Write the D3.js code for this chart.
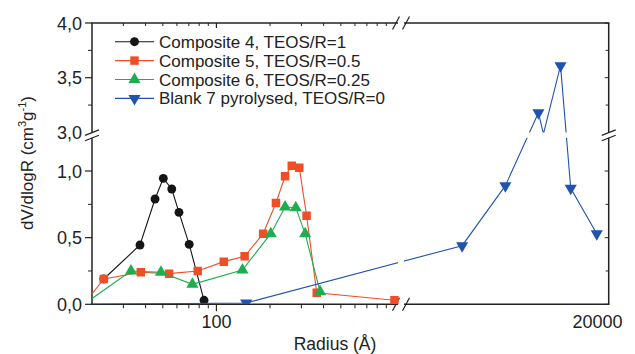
<!DOCTYPE html>
<html>
<head>
<meta charset="utf-8">
<script src="https://cdn.jsdelivr.net/npm/d3@7"></script>
<style>
  body { margin: 0; background: #fff; }
  text { font-family: "Liberation Sans", Arial, sans-serif; fill: #222; }
</style>
</head>
<body>
<div id="chart"></div>
<script>
// data (radius in Angstrom, dV/dlogR)
var comp4R = [23.3, 37.2, 45.2, 50.3, 56.1, 61.6, 70.3, 85.2];
var comp4V = [0.19, 0.445, 0.79, 0.945, 0.865, 0.69, 0.45, 0.03];

var comp5R = [18, 23.3, 37.6, 54.2, 78.5, 110, 144, 183, 216, 243, 265, 292, 321, 366, 1000];
var comp5V = [0.0, 0.19, 0.24, 0.23, 0.25, 0.32, 0.36, 0.53, 0.76, 0.96, 1.04, 1.025, 0.665, 0.087, 0.03];

var comp6R = [18, 33.1, 48.8, 73.3, 140, 202, 243, 279, 315, 382];
var comp6V = [0.0, 0.25, 0.24, 0.15, 0.257, 0.53, 0.73, 0.725, 0.53, 0.095];

var blankR = [18, 147, 2630, 5030, 8260, 8900, 11500, 13400, 19800];
var blankV = [0.0, 0.01, 0.44, 0.89, 3.18, 2.5, 3.61, 0.87, 0.53];

var seriesNames = ["Composite 4, TEOS/R=1", "Composite 5, TEOS/R=0.5", "Composite 6, TEOS/R=0.25", "Blank 7 pyrolysed, TEOS/R=0"];
var seriesColors = ["#151515", "#f04e26", "#1fad4f", "#2153ad"];
var seriesSymbols = ["circle", "square", "triangle", "triangleDown"];

var xMinorTicks = [30, 40, 50, 60, 70, 80, 90, 200, 300, 400, 500, 600, 700, 800, 900];
var xMajorTicks = [100];
var xLabels = [100, 20000];
var yMajorTicks = [0, 0.5, 1.0, 3.5, 4.0];
var yMinorTicks = [0.25, 0.75, 3.25, 3.75];
var yLabels = [0, 0.5, 1.0, 3.0, 3.5, 4.0];

// broken axes: gap in x between 1047 and 1100, gap in y between 1.25 and 3.0
var xBreak = [1047, 1100], yBreak = [1.25, 3.0];

var W = 635, H = 354;
var pL = 92, pR = 608.7, pT = 23, pB = 304.3;

var x = d3.scaleLog()
    .domain([20, xBreak[0], xBreak[1], 23680])
    .range([pL, 398, 404, pR]);
var y = d3.scaleLinear()
    .domain([0, yBreak[0], yBreak[1], 4.0])
    .range([pB, 137.7, 132.4, pT]);

var svg = d3.select("#chart").append("svg")
    .attr("width", W)
    .attr("height", H);

// clip for lines: the four panels, without the break bands
var defs = svg.append("defs");
var clip = defs.append("clipPath").attr("id", "panels");
[[pL, x(xBreak[0])], [x(xBreak[1]), pR]].forEach(function(xs) {
  [[pT, y(yBreak[1])], [y(yBreak[0]), pB]].forEach(function(ys) {
    clip.append("rect")
        .attr("x", xs[0]).attr("y", ys[0])
        .attr("width", xs[1] - xs[0]).attr("height", ys[1] - ys[0]);
  });
});
defs.append("clipPath").attr("id", "plotarea").append("rect")
    .attr("x", pL).attr("y", pT)
    .attr("width", pR - pL).attr("height", pB - pT);

var axisColor = "#222";
var axes = svg.append("g").attr("stroke", axisColor).attr("fill", "none");

// axis lines, interrupted at the breaks
function seg(x1, y1, x2, y2, w) {
  axes.append("line")
      .attr("x1", x1).attr("y1", y1).attr("x2", x2).attr("y2", y2)
      .attr("stroke-width", w || 1.5);
}
[pT, pB].forEach(function(yy) {
  seg(pL - 0.75, yy, x(xBreak[0]), yy);
  seg(x(xBreak[1]), yy, pR + 0.75, yy);
});
[pL, pR].forEach(function(xx) {
  seg(xx, pB, xx, y(yBreak[0]));
  seg(xx, y(yBreak[1]), xx, pT);
});

// break marks
[x(xBreak[0]) - 2, x(xBreak[1]) + 2].forEach(function(bx) {
  [pT, pB].forEach(function(by) {
    seg(bx - 3.5, by + 6.5, bx + 3.5, by - 6.5, 1.2);
  });
});
[y(yBreak[1]), y(yBreak[0])].forEach(function(by) {
  [pL, pR].forEach(function(bx) {
    seg(bx - 7, by + 3, bx + 7, by - 2.5, 1.2);
  });
});

// x ticks: outward at the bottom, inward at the top
xMinorTicks.forEach(function(v) {
  seg(x(v), pB, x(v), pB + 4, 1);
  seg(x(v), pT, x(v), pT + 3, 1);
});
xMajorTicks.forEach(function(v) {
  seg(x(v), pB, x(v), pB + 7, 1.2);
  seg(x(v), pT, x(v), pT + 5, 1.2);
});
// y ticks: outward on the left, inward on the right
yMajorTicks.forEach(function(v) {
  seg(pL - 7, y(v), pL, y(v), 1.2);
  seg(pR - 4, y(v), pR, y(v), 1);
});
yMinorTicks.forEach(function(v) {
  seg(pL - 4, y(v), pL, y(v), 1);
  seg(pR - 3, y(v), pR, y(v), 1);
});

var fmt = d3.format(".1f");
svg.append("g").selectAll("text")
    .data(yLabels)
  .enter().append("text")
    .attr("x", pL - 10)
    .attr("y", function(d) { return y(d) + 6.5; })
    .attr("text-anchor", "end")
    .attr("font-size", "18px")
    .text(function(d) { return fmt(d).replace(".", ","); });

svg.append("g").selectAll("text")
    .data(xLabels)
  .enter().append("text")
    .attr("x", function(d) { return x(d); })
    .attr("y", 327.5)
    .attr("text-anchor", "middle")
    .attr("font-size", "18px")
    .text(function(d) { return d; });

// axis titles
svg.append("text")
    .attr("x", 335).attr("y", 350)
    .attr("text-anchor", "middle")
    .attr("font-size", "17.5px")
    .text("Radius (Å)");

var yt = svg.append("text")
    .attr("transform", "translate(33,163) rotate(-90)")
    .attr("text-anchor", "middle")
    .attr("font-size", "17px");
yt.append("tspan").text("dV/dlogR (cm");
yt.append("tspan").attr("font-size", "11px").attr("dy", -7).text("3");
yt.append("tspan").attr("dy", 7).text("g");
yt.append("tspan").attr("font-size", "11px").attr("dy", -7).text("-1");
yt.append("tspan").attr("dy", 7).text(")");

// series
var series = [
  {r: comp4R, v: comp4V},
  {r: comp5R, v: comp5V},
  {r: comp6R, v: comp6V},
  {r: blankR, v: blankV}
];

function symbolPath(kind) {
  if (kind == "circle") return d3.symbol(d3.symbolCircle, 62)();
  if (kind == "square") return d3.symbol(d3.symbolSquare, 72)();
  return d3.symbol(d3.symbolTriangle, 64)();
}

var line = d3.line()
    .x(function(d) { return x(d[0]); })
    .y(function(d) { return y(d[1]); });

var plot = svg.append("g");
series.forEach(function(s, i) {
  var pts = s.r.map(function(r, j) { return [r, s.v[j]]; });
  plot.append("path")
      .datum(pts)
      .attr("clip-path", "url(#panels)")
      .attr("fill", "none")
      .attr("stroke", seriesColors[i])
      .attr("stroke-width", 1.1)
      .attr("d", line);
  // points hidden in the y break get no marker
  plot.append("g")
      .attr("clip-path", "url(#plotarea)")
    .selectAll("path")
      .data(pts.filter(function(d) { return d[1] <= yBreak[0] || d[1] >= yBreak[1]; }))
    .enter().append("path")
      .attr("d", symbolPath(seriesSymbols[i]))
      .attr("transform", function(d) {
        return "translate(" + x(d[0]) + "," + y(d[1]) + ")" +
          (seriesSymbols[i] == "triangleDown" ? " rotate(180)" : "");
      })
      .attr("fill", seriesColors[i]);
});

// legend
var legend = svg.append("g");
seriesNames.forEach(function(name, i) {
  var ly = 41.7 + i * 18.9;
  legend.append("line")
      .attr("x1", 115).attr("x2", 154)
      .attr("y1", ly).attr("y2", ly)
      .attr("stroke", seriesColors[i])
      .attr("stroke-width", 1.1);
  legend.append("path")
      .attr("d", symbolPath(seriesSymbols[i]))
      .attr("transform", "translate(134.5," + ly + ")" + (seriesSymbols[i] == "triangleDown" ? " rotate(180)" : ""))
      .attr("fill", seriesColors[i]);
  legend.append("text")
      .attr("x", 159).attr("y", ly + 6)
      .attr("font-size", "17px")
      .text(name);
});
</script>
</body>
</html>
